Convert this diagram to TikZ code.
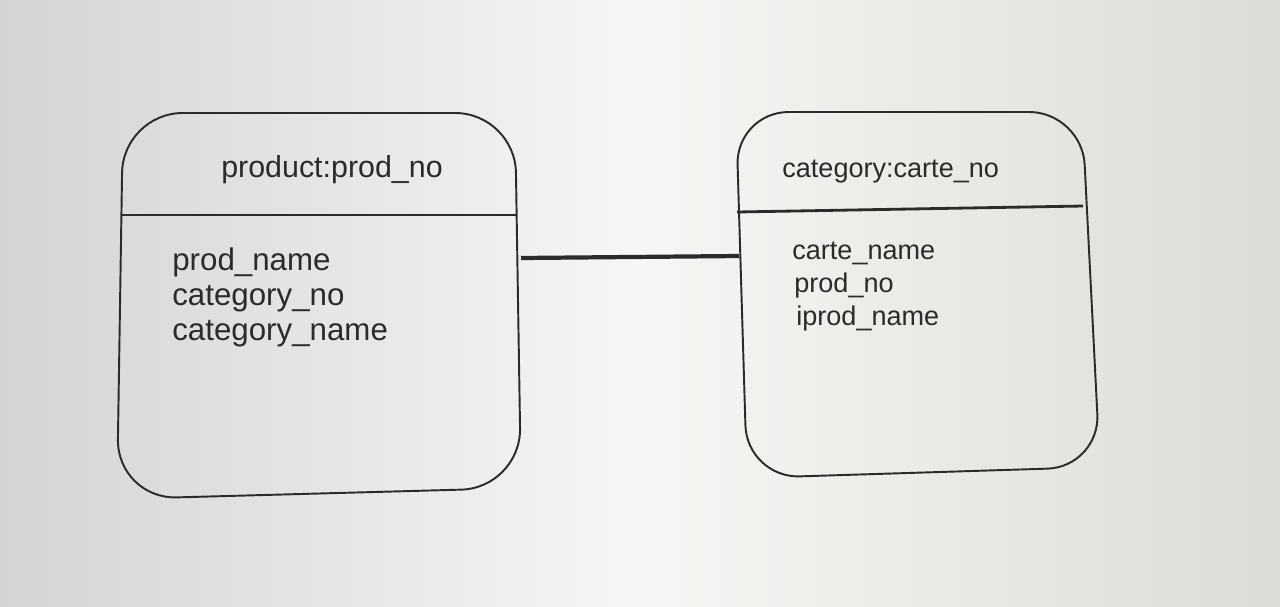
\documentclass[tikz,border=0pt]{standalone}
\usepackage{fontspec}
\setmainfont{Liberation Sans}
\definecolor{ink}{RGB}{45,42,42}
\definecolor{bgL}{RGB}{212,212,210}
\definecolor{bgM}{RGB}{246,246,244}
\definecolor{bgR}{RGB}{220,219,215}
\begin{document}
\begin{tikzpicture}[x=0.02cm,y=-0.02cm,
  boxline/.style={draw=ink,line width=1.1pt},
  divline/.style={draw=ink,line width=1.6pt},
  link/.style={draw=ink,line width=2.4pt},
  bigtxt/.style={text=ink,inner sep=0pt,font=\fontsize{17.3}{20}\selectfont},
  attrtxt/.style={text=ink,inner sep=0pt,font=\fontsize{17.8}{20}\selectfont},
  smalltxt/.style={text=ink,inner sep=0pt,font=\fontsize{15.4}{18}\selectfont}]
\useasboundingbox (0,0) rectangle (1280,606);
\shade[left color=bgL,right color=bgM] (0,0) rectangle (640,606);
\shade[left color=bgM,right color=bgR] (640,0) rectangle (1280,606);
% left entity
\coordinate (pTL) at (123,113);
\coordinate (pTR) at (515,113);
\coordinate (pBR) at (521,488);
\coordinate (pBL) at (117,499);
\draw[boxline,rounded corners=34pt] (pTL) -- (pTR) -- (pBR) -- (pBL) -- cycle;
\coordinate (pDL) at (122,215);
\coordinate (pDR) at (517,215);
\draw[divline] (pDL) -- (pDR);
\node[bigtxt,anchor=base] (ptitle) at (332,177) {product:prod\_no};
\node[attrtxt,anchor=base west] (pa1) at (172,270) {prod\_name};
\node[attrtxt,anchor=base west] (pa2) at (172,305) {category\_no};
\node[attrtxt,anchor=base west] (pa3) at (172,340) {category\_name};
% right entity
\coordinate (cTL) at (736,112);
\coordinate (cTR) at (1082,112);
\coordinate (cBR) at (1100,467);
\coordinate (cBL) at (747,478);
\draw[boxline,rounded corners=30pt] (cTL) -- (cTR) -- (cBR) -- (cBL) -- cycle;
\coordinate (cDL) at (737,212);
\coordinate (cDR) at (1083,206);
\draw[divline] (cDL) -- (cDR);
\node[smalltxt,anchor=base west] (ctitle) at (782,177) {category:carte\_no};
\node[smalltxt,anchor=base west] (ca1) at (792,259) {carte\_name};
\node[smalltxt,anchor=base west] (ca2) at (794,292) {prod\_no};
\node[smalltxt,anchor=base west] (ca3) at (796,325) {iprod\_name};
% connector
\coordinate (lA) at (521,258);
\coordinate (lB) at (739,256);
\draw[link] (lA) -- (lB);
\end{tikzpicture}
\end{document}
